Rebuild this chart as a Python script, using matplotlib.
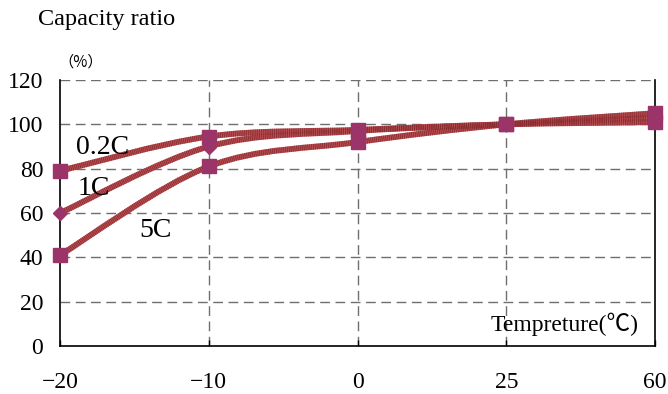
import matplotlib
matplotlib.use("Agg")
import matplotlib.pyplot as plt
from matplotlib.path import Path
from matplotlib.patches import PathPatch
import numpy as np

temps = ['\u221220', '\u221210', '0', '25', '60']
y_ticks = [0, 20, 40, 60, 80, 100, 120]
rate_02c = [79, 94.5, 97.5, 100, 101]
rate_1c = [60, 90, 97, 100, 103]
rate_5c = [41, 81, 92, 100, 105]

W, H = 668, 394
fig = plt.figure(figsize=(W / 100, H / 100), dpi=100)
L, R, T, B = 60, 655, 80, 346
ax = fig.add_axes([L / W, 1 - B / H, (R - L) / W, (B - T) / H])

xs = np.arange(len(temps))
ax.set_xlim(0, len(temps) - 1)
ax.set_ylim(0, 120)

SERIF = ['Liberation Serif', 'DejaVu Serif']


def smooth_path(x, y):
    pts = np.column_stack([x, y]).astype(float)
    n = len(pts)
    verts = [pts[0]]
    codes = [Path.MOVETO]
    for i in range(n - 1):
        p0 = pts[i - 1] if i > 0 else pts[i]
        p1 = pts[i]
        p2 = pts[i + 1]
        p3 = pts[i + 2] if i + 2 < n else pts[i + 1]
        c1 = p1 + (p2 - p0) / 6.0
        c2 = p2 - (p3 - p1) / 6.0
        verts += [c1, c2, p2]
        codes += [Path.CURVE4] * 3
    return Path(verts, codes)


line_base = '#B84C50'
line_stripe = '#862A2E'
for vals in (rate_5c, rate_1c, rate_02c):
    p = smooth_path(xs, vals)
    ax.add_patch(PathPatch(p, facecolor='none', edgecolor=line_base, lw=4.2,
                           capstyle='butt', zorder=3, clip_on=False))
    ax.add_patch(PathPatch(p, facecolor='none', edgecolor=line_stripe, lw=4.2,
                           linestyle=(0, (0.12, 0.2)), capstyle='butt',
                           zorder=3.1, clip_on=False))

mcol = '#9B3468'
ax.plot(xs, rate_1c, linestyle='none', marker='D', markersize=7.5,
        color=mcol, zorder=4, clip_on=False)
ax.plot(xs, rate_5c, linestyle='none', marker='s', markersize=10,
        color=mcol, zorder=4.5, clip_on=False)
ax.plot(xs, rate_02c, linestyle='none', marker='s', markersize=10,
        color=mcol, zorder=5, clip_on=False)

# grid
for yv in y_ticks[1:]:
    ax.axhline(yv, color='#6e6e6e', lw=1.0, linestyle=(0, (7, 4)), zorder=1)
for xv in xs[1:-1]:
    ax.axvline(xv, color='#6e6e6e', lw=1.0, linestyle=(0, (7, 4)), zorder=1)

for s in ('left', 'bottom', 'right'):
    ax.spines[s].set_color('black')
    ax.spines[s].set_linewidth(1.2)
ax.spines['top'].set_visible(False)

ax.set_xticks(xs)
ax.set_xticklabels(temps, fontfamily=SERIF, fontsize=17)
ax.set_yticks(y_ticks)
ax.set_yticklabels([str(v) for v in y_ticks], fontfamily=SERIF, fontsize=17)
ax.tick_params(axis='x', direction='in', length=4, pad=19, width=1)
ax.tick_params(axis='y', direction='in', length=0, pad=12)

ax.text(0.11, 89.5, '0.2C', fontfamily=SERIF, fontsize=20, ha='left', va='center', zorder=6)
ax.text(0.12, 71, '1C', fontfamily=SERIF, fontsize=20, ha='left', va='center', zorder=6)
ax.text(0.535, 52, '5C', fontfamily=SERIF, fontsize=20, ha='left', va='center', zorder=6)
ax.text(3.89, 10, 'Tempreture(\u2103)', fontfamily=['Liberation Serif', 'Noto Sans CJK SC'],
        fontsize=17, ha='right', va='center', zorder=6)

fig.text(38 / W, 1 - 19 / H, 'Capacity ratio', fontfamily=SERIF, fontsize=17.5,
         ha='left', va='center')
fig.text(58 / W, 1 - 62 / H, '\uff08%\uff09', fontfamily=['Noto Sans CJK SC', 'DejaVu Sans'],
         fontsize=11, ha='left', va='center')

fig.savefig('out.png', dpi=100)
